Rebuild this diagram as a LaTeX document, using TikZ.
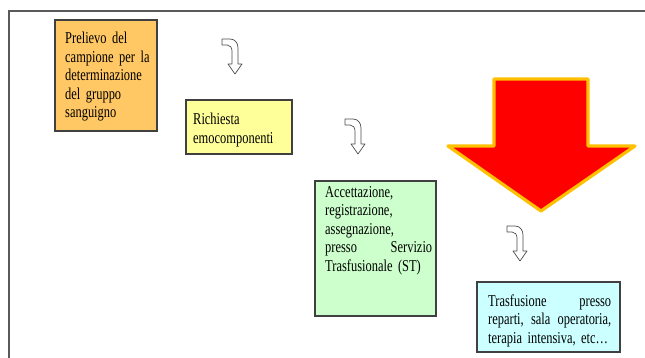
\documentclass[tikz,border=0pt]{standalone}
\usepackage{fontspec}
\setmainfont{Liberation Serif}[FakeStretch=0.75]
\definecolor{boxorange}{RGB}{255,200,100}
\definecolor{boxyellow}{RGB}{255,255,153}
\definecolor{boxgreen}{RGB}{204,255,204}
\definecolor{boxcyan}{RGB}{204,255,255}
\definecolor{arrowgold}{RGB}{255,192,0}
\definecolor{framegray}{RGB}{90,90,90}
\begin{document}
\begin{tikzpicture}[x=1pt,y=-1pt,
  stepbox/.style={draw=black!75,line width=1.1pt},
  steptext/.style={anchor=base west,inner sep=0pt,align=left,
    font=\fontsize{16.6}{18.5}\selectfont},
  hookarrow/.style={draw=black!70,fill=white,line width=0.7pt,line join=round},
  bigarrow/.style={fill=red,draw=arrowgold,line width=3.2pt,line join=round}]
\useasboundingbox (0,0) rectangle (645,358);
% frame
\draw[framegray,line width=1.6pt] (9,358) -- (9,11) -- (645,11);
% boxes
\draw[stepbox,fill=boxorange] (55,20) rectangle (157,131);
\draw[stepbox,fill=boxyellow] (186,100) rectangle (292,154);
\draw[stepbox,fill=boxgreen] (315,181) rectangle (436,316);
\draw[stepbox,fill=boxcyan] (477,282) rectangle (620,352);
% texts
\node[steptext,text width=92pt] (t1) at (65,44) {Prelievo del\\campione per la\\determinazione\\del gruppo\\sanguigno};
\node[steptext,text width=95pt] (t2) at (193,125) {Richiesta\\emocomponenti};
\node[steptext,text width=107pt] (t3) at (325,197) {Accettazione,\\registrazione,\\assegnazione,\\presso\hfill Servizio\\Trasfusionale (ST)};
\node[steptext,text width=123pt] (t4) at (488,306) {Trasfusione\hfill presso\\reparti,\hfill sala\hfill operatoria,\\terapia intensiva, etc\dots};
% hook arrows
\foreach \ax/\ay in {222/39,345/119,507/226}{
  \draw[hookarrow,shift={(\ax pt,-\ay pt)}]
    (0,0) -- (8,0) .. controls (13,0) and (16,4) .. (16,9) -- (16,25)
    -- (20,25) -- (13,35) -- (6,25) -- (10,25) -- (10,12)
    .. controls (10,8.5) and (8,6) .. (5,6) -- (0,6) -- cycle;
}
% big red arrow
\draw[bigarrow] (494,79) -- (588,79) -- (588,146) -- (635,146) -- (541,211)
  -- (448,146) -- (494,146) -- cycle;
\end{tikzpicture}
\end{document}
